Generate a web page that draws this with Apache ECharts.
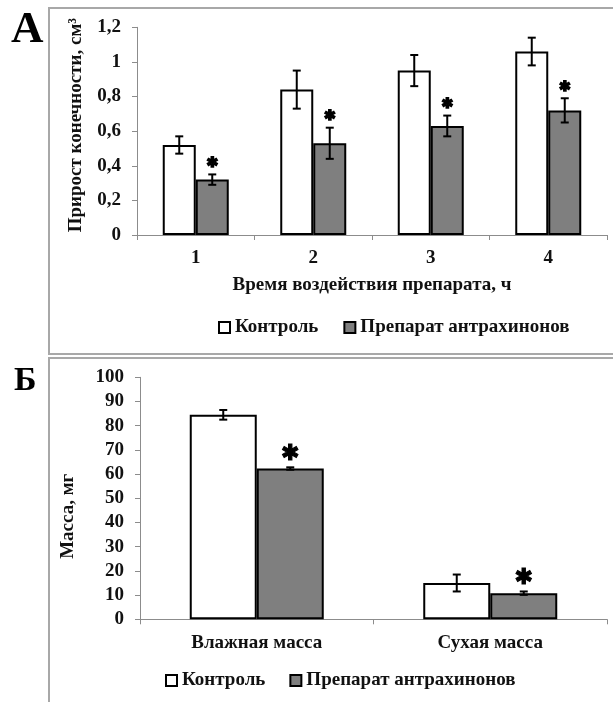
<!DOCTYPE html>
<html>
<head>
<meta charset="utf-8">
<script src="https://cdn.jsdelivr.net/npm/echarts@6/dist/echarts.min.js"></script>
<style>
  html, body { margin: 0; padding: 0; background: #fff; }
  #chart { width: 613px; height: 702px; }
</style>
</head>
<body>
<div id="chart"></div>
<script>
// Panel A: limb growth over exposure time
const hoursA = ['1', '2', '3', '4'];
const controlA = [0.52, 0.84, 0.95, 1.06];
const controlErrA = [0.05, 0.11, 0.09, 0.08];
const drugA = [0.32, 0.53, 0.63, 0.72];
const drugErrA = [0.03, 0.09, 0.06, 0.07];

// Panel B: wet and dry mass
const massCats = ['Влажная масса', 'Сухая масса'];
const controlB = [84.5, 15];
const controlErrB = [2, 3.5];
const drugB = [62.3, 10.8];
const drugErrB = [0.5, 0.7];

const seriesNames = ['Контроль', 'Препарат антрахинонов'];
const FONT = '"Liberation Serif", "Times New Roman", serif';
const textBase = { fontFamily: FONT, fontWeight: 'bold', color: '#111', fontSize: 19 };

const chart = echarts.init(document.getElementById('chart'), null, { renderer: 'canvas' });

// error bar (and optional significance mark) drawn at one side of a grouped category
function errorSeries(axisIdx, vals, errs, side, barW, mark, markSize, markGap, markStroke) {
  return {
    type: 'custom',
    xAxisIndex: axisIdx,
    yAxisIndex: axisIdx,
    z: 5,
    silent: true,
    data: vals.map((v, i) => [i, v, errs[i]]),
    encode: { x: 0, y: 1 },
    renderItem: function (params, api) {
      const i = api.value(0), v = api.value(1), e = api.value(2);
      const x = api.coord([i, v])[0] + side * barW / 2;
      const top = api.coord([i, v + e])[1];
      const bot = api.coord([i, v - e])[1];
      const cap = 4;
      const st = { stroke: '#000', lineWidth: 2 };
      const children = [
        { type: 'line', shape: { x1: x, y1: top, x2: x, y2: bot }, style: st },
        { type: 'line', shape: { x1: x - cap, y1: top, x2: x + cap, y2: top }, style: st },
        { type: 'line', shape: { x1: x - cap, y1: bot, x2: x + cap, y2: bot }, style: st }
      ];
      if (mark) {
        children.push({
          type: 'text',
          style: {
            text: '✱', x: x, y: top - markGap,
            align: 'center', verticalAlign: 'middle',
            font: 'bold ' + markSize + 'px "DejaVu Sans"', fill: '#000',
            stroke: '#000', lineWidth: markStroke
          }
        });
      }
      return { type: 'group', children: children };
    }
  };
}

function barSeries(axisIdx, name, vals, fill, barW) {
  return {
    type: 'bar',
    name: name,
    xAxisIndex: axisIdx,
    yAxisIndex: axisIdx,
    data: vals,
    barWidth: barW,
    barGap: '0%',
    itemStyle: { color: fill, borderColor: '#000', borderWidth: 2 },
    silent: true
  };
}

const axisLineGray = { lineStyle: { color: '#8c8c8c', width: 1 } };
const tickGray = { show: true, length: 5, lineStyle: { color: '#8c8c8c' } };

const option = {
  animation: false,
  backgroundColor: '#fff',
  graphic: [
    { type: 'rect', shape: { x: 49, y: 8, width: 600, height: 346 },
      style: { fill: 'none', stroke: '#a8a8a8', lineWidth: 2 }, z: -1 },
    { type: 'rect', shape: { x: 49, y: 358, width: 600, height: 400 },
      style: { fill: 'none', stroke: '#a8a8a8', lineWidth: 2 }, z: -1 },
    { type: 'text', left: 11, top: 8,
      style: { text: 'А', font: 'bold 45px ' + FONT, fill: '#000' } },
    { type: 'text', left: 14, top: 364,
      style: { text: 'Б', font: 'bold 34px ' + FONT, fill: '#000' } }
  ],
  legend: [
    {
      data: seriesNames, left: 218, top: 318, padding: 0,
      itemWidth: 11, itemHeight: 11, itemGap: 25,
      icon: 'rect', textStyle: Object.assign({}, textBase),
      itemStyle: { borderColor: '#000', borderWidth: 2 }
    },
    {
      data: seriesNames, left: 165, top: 671, padding: 0,
      itemWidth: 11, itemHeight: 11, itemGap: 24,
      icon: 'rect', textStyle: Object.assign({}, textBase),
      itemStyle: { borderColor: '#000', borderWidth: 2 }
    }
  ],
  grid: [
    { left: 137, right: 6, top: 27.3, bottom: 467, containLabel: false },
    { left: 140, right: 6, top: 377.3, bottom: 82.7, containLabel: false }
  ],
  xAxis: [
    {
      type: 'category', gridIndex: 0, data: hoursA,
      axisLine: axisLineGray,
      axisTick: tickGray,
      axisLabel: Object.assign({ margin: 14 }, textBase),
      name: 'Время воздействия препарата, ч', nameLocation: 'middle', nameGap: 41,
      nameTextStyle: Object.assign({}, textBase)
    },
    {
      type: 'category', gridIndex: 1, data: massCats,
      axisLine: axisLineGray,
      axisTick: tickGray,
      axisLabel: Object.assign({ margin: 14 }, textBase)
    }
  ],
  yAxis: [
    {
      type: 'value', gridIndex: 0, min: 0, max: 1.2, interval: 0.2,
      splitLine: { show: false },
      axisLine: Object.assign({ show: true }, axisLineGray),
      axisTick: tickGray,
      axisLabel: Object.assign({
        margin: 16,
        formatter: v => (Math.round(v * 10) / 10).toString().replace('.', ',')
      }, textBase),
      name: 'Прирост конечности, см³', nameLocation: 'middle', nameGap: 51,
      nameTextStyle: Object.assign({ padding: [0, 0, 0, 12] }, textBase)
    },
    {
      type: 'value', gridIndex: 1, min: 0, max: 100, interval: 10,
      splitLine: { show: false },
      axisLine: Object.assign({ show: true }, axisLineGray),
      axisTick: tickGray,
      axisLabel: Object.assign({ margin: 16 }, textBase),
      name: 'Масса, мг', nameLocation: 'middle', nameGap: 62,
      nameTextStyle: Object.assign({}, textBase, { padding: [0, 36, 0, 0] })
    }
  ],
  series: [
    barSeries(0, seriesNames[0], controlA, '#ffffff', 33),
    barSeries(0, seriesNames[1], drugA, '#7f7f7f', 33),
    barSeries(1, seriesNames[0], controlB, '#ffffff', 67),
    barSeries(1, seriesNames[1], drugB, '#7f7f7f', 67),
    errorSeries(0, controlA, controlErrA, -1, 33, false),
    errorSeries(0, drugA, drugErrA, 1, 33, true, 14, 11, 1.5),
    errorSeries(1, controlB, controlErrB, -1, 67, false),
    errorSeries(1, drugB, drugErrB, 1, 67, true, 22, 13, 1)
  ]
};

chart.setOption(option);
</script>
</body>
</html>
